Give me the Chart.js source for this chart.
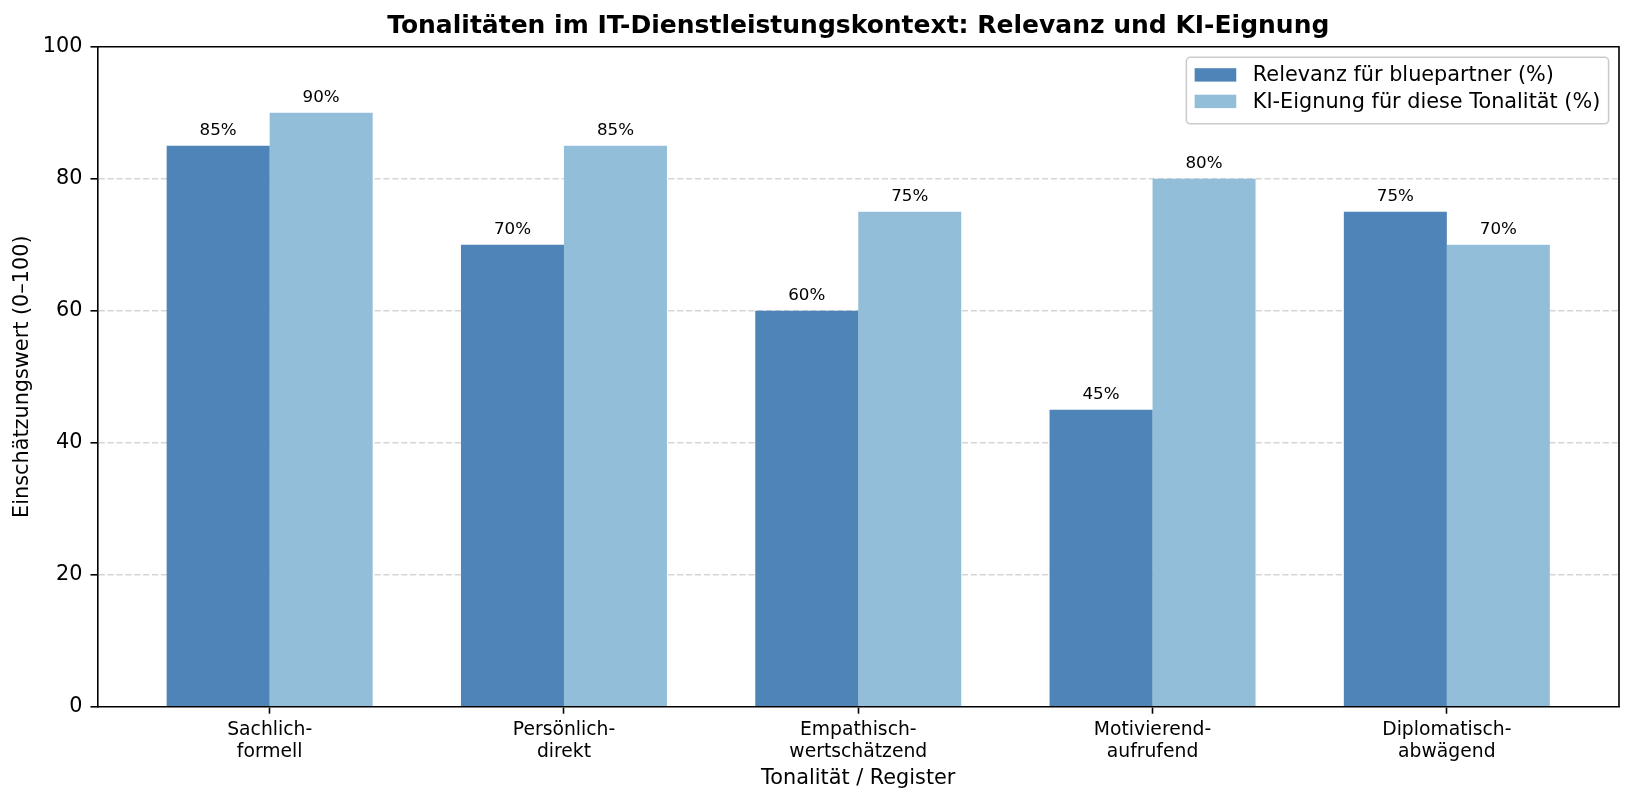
<!DOCTYPE html>
<html><head><meta charset="utf-8">
<script src="https://cdn.jsdelivr.net/npm/chart.js@4.4.0/dist/chart.umd.min.js"></script>
<style>html,body{margin:0;padding:0;background:#fff;} canvas{display:block;}</style>
</head><body>
<canvas id="c" width="1634" height="806"></canvas>
<script>
const categories = [["Sachlich-","formell"],["Persönlich-","direkt"],["Empathisch-","wertschätzend"],["Motivierend-","aufrufend"],["Diplomatisch-","abwägend"]];
const relevanz = [85, 70, 60, 45, 75];
const kiEignung = [90, 85, 75, 80, 70];
const yTicks = [0, 20, 40, 60, 80, 100];
const seriesLabels = ["Relevanz für bluepartner (%)", "KI-Eignung für diese Tonalität (%)"];
const seriesColors = ["#4e84b8", "#93bed9"];
const titleText = "Tonalitäten im IT-Dienstleistungskontext: Relevanz und KI-Eignung";
const xTitle = "Tonalität / Register";
const yTitle = "Einschätzungswert (0–100)";

const FONT = "'DejaVu Sans', 'Liberation Sans', sans-serif";

const framePlugin = {
  id: 'frame',
  afterDatasetsDraw(chart) {
    const {ctx} = chart;
    ctx.save();
    ctx.font = "16.7px " + FONT;
    ctx.fillStyle = "#000";
    ctx.textAlign = "center";
    ctx.textBaseline = "alphabetic";
    chart.data.datasets.forEach((ds, di) => {
      const meta = chart.getDatasetMeta(di);
      meta.data.forEach((bar, i) => {
        ctx.fillText(ds.data[i].y + "%", bar.x, bar.y - 10.5);
      });
    });
    ctx.restore();
  },
  afterDraw(chart) {
    const {ctx, chartArea: a} = chart;
    ctx.save();
    ctx.strokeStyle = "#000";
    ctx.lineWidth = 1.6;
    ctx.beginPath();
    ctx.moveTo(a.left, a.top);
    ctx.lineTo(a.right, a.top);
    ctx.lineTo(a.right, a.bottom);
    ctx.stroke();
    // legend
    ctx.font = "20.8px " + FONT;
    const labels = chart.data.datasets.map(d => d.label);
    const tw = Math.max(...labels.map(l => ctx.measureText(l).width));
    const pad = 8.3, hl = 41.6, hp = 16.6;
    const w = pad + hl + hp + tw + pad;
    const h = 66.5;
    const right = a.right - 10.4;
    const left = right - w;
    const top = a.top + 10.6;
    ctx.fillStyle = "rgba(255,255,255,0.8)";
    ctx.strokeStyle = "#cccccc";
    ctx.lineWidth = 1.6;
    ctx.beginPath();
    ctx.roundRect(left, top, w, h, 4);
    ctx.fill();
    ctx.stroke();
    chart.data.datasets.forEach((ds, i) => {
      const cy = top + 17.6 + i * 26.5;
      ctx.fillStyle = ds.backgroundColor;
      ctx.fillRect(left + pad, cy - 6.7, hl, 13.4);
      ctx.fillStyle = "#000";
      ctx.textAlign = "left";
      ctx.textBaseline = "middle";
      ctx.fillText(ds.label, left + pad + hl + hp, cy + 1);
    });
    ctx.restore();
  }
};

new Chart(document.getElementById('c'), {
  type: 'bar',
  data: {
    datasets: [
      { label: seriesLabels[0], data: relevanz.map((v, i) => ({x: i, y: v})), backgroundColor: seriesColors[0], borderWidth: 0 },
      { label: seriesLabels[1], data: kiEignung.map((v, i) => ({x: i, y: v})), backgroundColor: seriesColors[1], borderWidth: 0 }
    ]
  },
  options: {
    responsive: false,
    animation: false,
    devicePixelRatio: 1,
    layout: { padding: { left: 0, right: 15, top: 0, bottom: 0 } },
    datasets: { bar: { categoryPercentage: 0.7, barPercentage: 1.0 } },
    plugins: {
      legend: { display: false },
      tooltip: { enabled: false },
      title: {
        display: true, text: titleText, color: '#000', fullSize: false,
        font: { family: FONT, size: 25, weight: 'bold' },
        padding: { top: 11, bottom: 5.7 }
      }
    },
    scales: {
      x: {
        type: 'linear', min: -0.585, max: 4.585, offset: false,
        afterBuildTicks: axis => { axis.ticks = categories.map((c, i) => ({value: i})); },
        afterFit: axis => { axis.height = 99.3; },
        ticks: {
          callback: (v, i) => categories[i],
          color: '#000', font: { family: FONT, size: 18.75, lineHeight: 1.16 },
          padding: 6, maxRotation: 0, autoSkip: false
        },
        grid: { offset: false, drawOnChartArea: false, drawTicks: true, tickLength: 7, tickColor: '#000', tickWidth: 1.6, tickBorderDash: [] },
        border: { display: true, color: '#000', width: 1.6 },
        title: { display: true, text: xTitle, color: '#000', font: { family: FONT, size: 20.8 }, padding: { top: 0, bottom: 14.5 } }
      },
      y: {
        min: 0, max: 100,
        afterBuildTicks: axis => { axis.ticks = yTicks.map(v => ({value: v})); },
        afterFit: axis => { axis.width = 97.5; },
        ticks: { color: '#000', font: { family: FONT, size: 20.8 }, padding: 8 },
        grid: {
          color: c => (c.tick && (c.tick.value === 0 || c.tick.value === 100)) ? 'rgba(0,0,0,0)' : 'rgba(128,128,128,0.33)',
          lineWidth: 1.6,
          drawTicks: true, tickLength: 7, tickColor: '#000', tickWidth: 1.6, tickBorderDash: []
        },
        border: { display: true, color: '#000', width: 1.6, dash: [6.2, 2.7] },
        title: { display: true, text: yTitle, color: '#000', font: { family: FONT, size: 20.8 }, padding: { top: 10.5, bottom: 0 } }
      }
    }
  },
  plugins: [framePlugin]
});
</script>
</body></html>
